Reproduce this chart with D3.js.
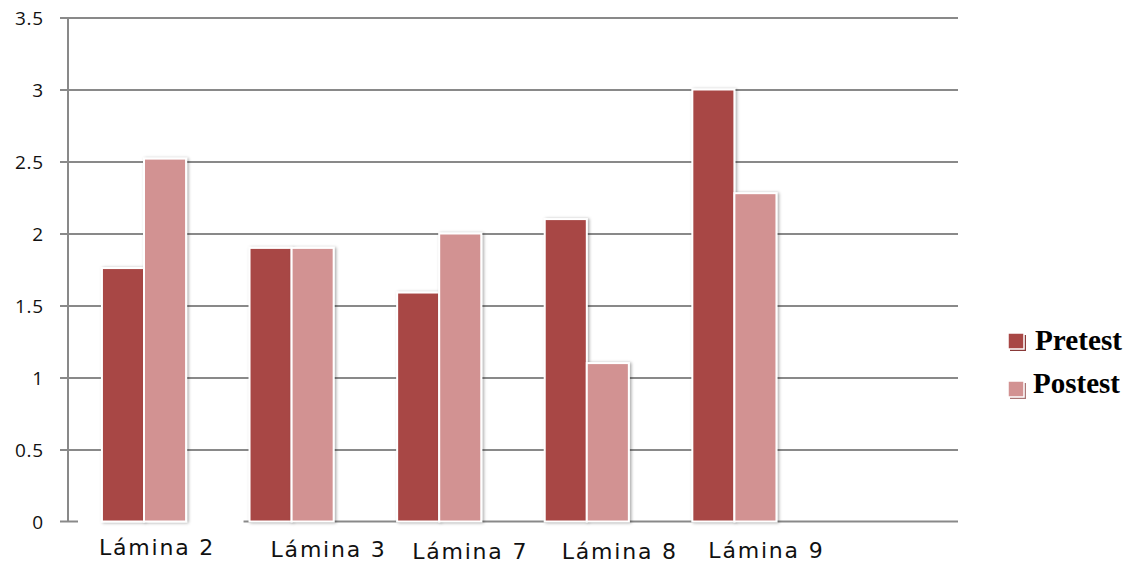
<!DOCTYPE html>
<html>
<head>
<meta charset="utf-8">
<script src="https://cdn.jsdelivr.net/npm/d3@7"></script>
<style>
  html, body { margin: 0; padding: 0; background: #fff; }
  svg { display: block; }
</style>
</head>
<body>
<svg id="chart" width="1133" height="570"></svg>
<script>
// Category slots (the last slot is left empty)
const categories = ["Lámina 2", "Lámina 3", "Lámina 7", "Lámina 8", "Lámina 9", ""];
const seriesNames = ["Pretest", "Postest"];
const pretest = [1.76, 1.90, 1.59, 2.10, 3.00];
const postest = [2.52, 1.90, 2.00, 1.10, 2.28];
const yTicks = [0, 0.5, 1, 1.5, 2, 2.5, 3, 3.5];

// Horizontal and vertical nudges for the category labels
const labelNudge = [13, 37, 31, 33, 32];
const labelDrop = [0, 2, 4, 4, 3];

const colors = { Pretest: "#A84745", Postest: "#D29292" };

const svg = d3.select("#chart");
const plotLeft = 68, plotRight = 958, plotTop = 17.5, plotBottom = 521.5;

const y = d3.scaleLinear().domain([0, 3.5]).range([plotBottom, plotTop]);
const x0 = d3.scaleBand().domain(categories).range([plotLeft, plotRight])
  .paddingInner(0.43).paddingOuter(0.23);
const x1 = d3.scaleBand().domain(seriesNames).range([0, x0.bandwidth()]);

const defs = svg.append("defs");
const f = defs.append("filter").attr("id", "shadow")
  .attr("x", "-30%").attr("y", "-10%").attr("width", "160%").attr("height", "120%");
f.append("feDropShadow").attr("dx", 1.5).attr("dy", 0.5)
  .attr("stdDeviation", 1.6).attr("flood-color", "#000").attr("flood-opacity", 0.35);

// Gridlines with outside tick marks
const grid = svg.append("g")
  .attr("transform", `translate(${plotLeft},0)`)
  .call(d3.axisLeft(y).tickValues(yTicks.filter(d => d > 0))
    .tickSize(-(plotRight - plotLeft)).tickSizeOuter(0).tickFormat(""));
grid.select(".domain").remove();
grid.selectAll(".tick line").attr("stroke", "#898989").attr("stroke-width", 2)
  .attr("x1", -8).attr("x2", plotRight - plotLeft);

// Vertical axis line
svg.append("line").attr("x1", plotLeft).attr("x2", plotLeft)
  .attr("y1", y(3.5)).attr("y2", y(0))
  .attr("stroke", "#898989").attr("stroke-width", 2);

// Baseline (tick at the axis, then the run from the second slot onward)
svg.append("line").attr("x1", plotLeft - 8).attr("x2", plotLeft + 10)
  .attr("y1", y(0)).attr("y2", y(0)).attr("stroke", "#898989").attr("stroke-width", 2);
svg.append("line").attr("x1", x0(categories[1]) - 6).attr("x2", plotRight)
  .attr("y1", y(0)).attr("y2", y(0)).attr("stroke", "#898989").attr("stroke-width", 2);

// Y tick labels
svg.append("g").selectAll("text").data(yTicks).join("text")
  .attr("x", 44).attr("y", d => y(d) + 2)
  .attr("text-anchor", "end").attr("dominant-baseline", "middle")
  .attr("font-family", "Open Sans, sans-serif").attr("font-size", 19)
  .attr("letter-spacing", "0.8px").attr("fill", "#111")
  .text(d => d);

// Bars
const rows = categories.slice(0, pretest.length).map((c, i) => ({
  cat: c, values: [{ s: "Pretest", v: pretest[i] }, { s: "Postest", v: postest[i] }]
}));
const groups = svg.append("g").selectAll("g").data(rows).join("g")
  .attr("transform", d => `translate(${x0(d.cat)},0)`);
groups.selectAll("rect").data(d => d.values).join("rect")
  .attr("x", d => x1(d.s)).attr("width", x1.bandwidth())
  .attr("y", d => y(d.v)).attr("height", d => y(0) - y(d.v))
  .attr("fill", d => colors[d.s])
  .attr("stroke", "#fff").attr("stroke-width", 2)
  .attr("filter", "url(#shadow)");

// Category labels
svg.append("g").selectAll("text").data(rows).join("text")
  .attr("x", (d, i) => x0(d.cat) + x0.bandwidth() / 2 + labelNudge[i])
  .attr("y", (d, i) => 555 + labelDrop[i])
  .attr("text-anchor", "middle")
  .attr("font-family", "DejaVu Sans, sans-serif").attr("font-size", 22)
  .attr("letter-spacing", "1.8px").attr("fill", "#111")
  .text(d => d.cat);

// Legend
const legend = svg.append("g");
const legendRows = [
  { s: "Pretest", sq: 333, base: 350, tx: 1035 },
  { s: "Postest", sq: 381, base: 393, tx: 1033 }
];
legendRows.forEach(r => {
  legend.append("rect").attr("x", 1010).attr("y", r.sq + 2).attr("width", 16).attr("height", 16)
    .attr("fill", d3.color(colors[r.s]).darker(0.6));
  legend.append("rect").attr("x", 1008).attr("y", r.sq).attr("width", 16).attr("height", 16)
    .attr("fill", colors[r.s]).attr("stroke", "#fff").attr("stroke-width", 1.5);
  legend.append("text").attr("x", r.tx).attr("y", r.base)
    .attr("font-family", "Liberation Serif, Times New Roman, serif")
    .attr("font-weight", "bold").attr("font-size", 28.5)
    .attr("textLength", 87).attr("lengthAdjust", "spacingAndGlyphs")
    .attr("fill", "#000").text(r.s);
});
</script>
</body>
</html>
